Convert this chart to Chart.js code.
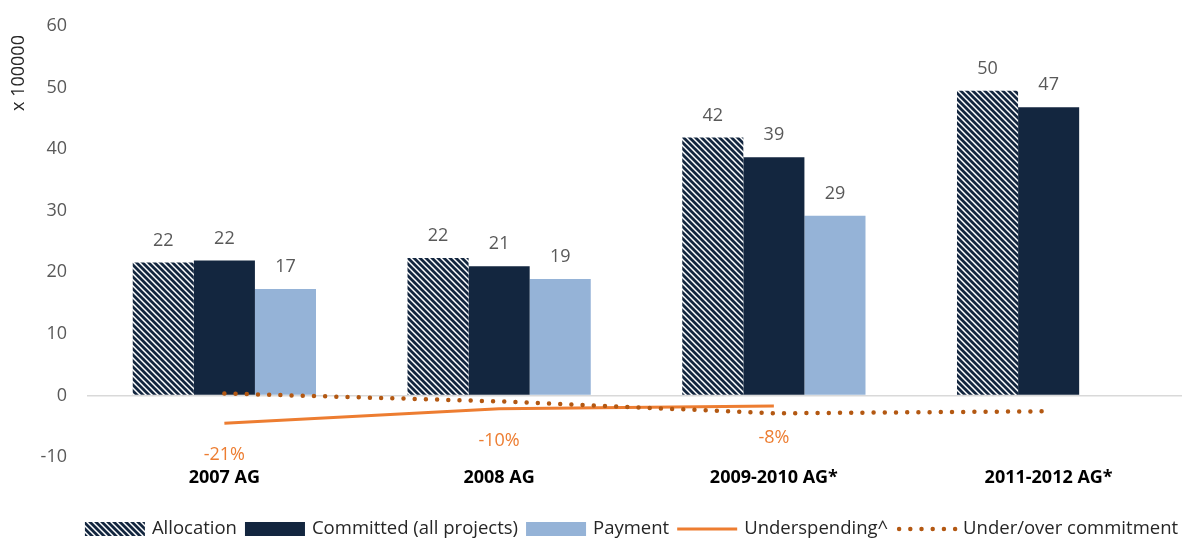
<!DOCTYPE html>
<html>
<head>
<meta charset="utf-8">
<script src="https://cdn.jsdelivr.net/npm/chart.js@4.4.1/dist/chart.umd.min.js"></script>
<style>
  html, body { margin: 0; padding: 0; background: #fff; overflow: hidden; }
  #wrap { position: relative; width: 1186px; height: 538px; }
</style>
</head>
<body>
<div id="wrap"><canvas id="c" width="1186" height="538"></canvas></div>
<script>
// Categories and series (amounts in units of 100000)
const categories = ['2007 AG', '2008 AG', '2009-2010 AG*', '2011-2012 AG*'];
const allocation = [21.6, 22.3, 41.9, 49.5];
const committed  = [21.9, 21.0, 38.7, 46.8];
const payment    = [17.3, 18.9, 29.2, null];
// Percentages, plotted against a hidden secondary scale
const underspending  = [-21, -10, -8, null];
const commitmentGap  = [1.5, -4.5, -13.5, -12];
const yTicks = [-10, 0, 10, 20, 30, 40, 50, 60];

const FONT = '"Open Sans", "DejaVu Sans", sans-serif';
const NAVY = '#13263F';
const LIGHT_BLUE = '#95B3D7';
const ORANGE = '#ED7D31';
const BROWN = '#B35812';

// Wide downward diagonal hatch
function hatchPattern(color) {
  const s = 6;
  const tile = document.createElement('canvas');
  tile.width = s; tile.height = s;
  const g = tile.getContext('2d');
  g.fillStyle = '#ffffff';
  g.fillRect(0, 0, s, s);
  g.strokeStyle = color;
  g.lineWidth = 2.8;
  g.beginPath();
  g.moveTo(-1, -1); g.lineTo(s + 1, s + 1);
  g.moveTo(-1, s - 1); g.lineTo(1, s + 1);
  g.moveTo(s - 1, -1); g.lineTo(s + 1, 1);
  g.stroke();
  return g.createPattern(tile, 'repeat');
}

// Value labels above bars and percentage labels under the underspending line
const valueLabels = {
  id: 'valueLabels',
  afterDatasetsDraw(chart) {
    const ctx = chart.ctx;
    ctx.save();
    ctx.textAlign = 'center';
    ctx.textBaseline = 'middle';
    ctx.font = '18px ' + FONT;
    chart.data.datasets.forEach((ds, i) => {
      const meta = chart.getDatasetMeta(i);
      if (meta.hidden) return;
      meta.data.forEach((el, j) => {
        const v = ds.data[j];
        if (v === null || v === undefined) return;
        if (meta.type === 'bar') {
          ctx.fillStyle = '#595959';
          ctx.fillText(String(Math.round(v)), el.x, el.y - 22);
        } else if (ds.pctLabels) {
          ctx.fillStyle = ORANGE;
          ctx.fillText(v + '%', el.x, el.y + 32);
        }
      });
    });
    ctx.restore();
  }
};

// Unit caption at the top of the value axis
const unitCaption = {
  id: 'unitCaption',
  afterDraw(chart) {
    const ctx = chart.ctx;
    ctx.save();
    ctx.translate(19, chart.chartArea.top + 47);
    ctx.rotate(-Math.PI / 2);
    ctx.textAlign = 'center';
    ctx.textBaseline = 'middle';
    ctx.font = '18px ' + FONT;
    ctx.fillStyle = '#262626';
    ctx.fillText('x 100000', 0, 0);
    ctx.restore();
  }
};

// Single-row legend under the category labels
const bottomLegend = {
  id: 'bottomLegend',
  afterDraw(chart) {
    const ctx = chart.ctx;
    const sw = 60, gapText = 7, gapItem = 8, boxH = 14;
    ctx.save();
    ctx.font = '18.5px ' + FONT;
    const items = chart.data.datasets.map((ds, i) => ({
      ds, type: chart.getDatasetMeta(i).type,
      tw: ctx.measureText(ds.label).width
    }));
    const total = items.reduce((a, it) => a + sw + gapText + it.tw, 0) + gapItem * (items.length - 1);
    let x = (chart.chartArea.left + chart.chartArea.right) / 2 - 5 - total / 2;
    const y = chart.height - 9;
    items.forEach(it => {
      const ds = it.ds;
      if (it.type === 'bar') {
        ctx.fillStyle = ds.backgroundColor;
        ctx.fillRect(x, y - boxH / 2, sw, boxH);
      } else {
        ctx.save();
        ctx.strokeStyle = ds.borderColor;
        ctx.lineWidth = ds.borderWidth;
        ctx.lineCap = ds.borderCapStyle || 'butt';
        ctx.setLineDash(ds.borderDash || []);
        ctx.beginPath();
        const inset = ds.borderDash ? 3 : 0;
        ctx.moveTo(x + inset, y);
        ctx.lineTo(x + sw, y);
        ctx.stroke();
        ctx.restore();
      }
      ctx.fillStyle = '#262626';
      ctx.textAlign = 'left';
      ctx.textBaseline = 'middle';
      ctx.fillText(ds.label, x + sw + gapText, y);
      x += sw + gapText + it.tw + gapItem;
    });
    ctx.restore();
  }
};

const ctx = document.getElementById('c').getContext('2d');
new Chart(ctx, {
  type: 'bar',
  data: {
    labels: categories,
    datasets: [
      { label: 'Allocation', data: allocation, backgroundColor: hatchPattern(NAVY), order: 3 },
      { label: 'Committed (all projects)', data: committed, backgroundColor: NAVY, order: 3 },
      { label: 'Payment', data: payment, backgroundColor: LIGHT_BLUE, order: 3 },
      {
        type: 'line', label: 'Underspending^', data: underspending, yAxisID: 'y2',
        borderColor: ORANGE, borderWidth: 3, pointRadius: 0, tension: 0, fill: false,
        pctLabels: true, order: 2
      },
      {
        type: 'line', label: 'Under/over commitment', data: commitmentGap, yAxisID: 'y2',
        borderColor: BROWN, borderWidth: 4.5, borderDash: [0, 11.2], borderCapStyle: 'round',
        pointRadius: 0, tension: 0, fill: false, order: 1
      }
    ]
  },
  options: {
    responsive: false,
    animation: false,
    devicePixelRatio: 1,
    layout: { padding: { top: 26, right: 0, bottom: 41, left: 0 } },
    datasets: { bar: { categoryPercentage: 0.667, barPercentage: 1.0 } },
    plugins: { legend: { display: false }, tooltip: { enabled: false } },
    scales: {
      x: {
        grid: { display: false },
        border: { display: false },
        ticks: {
          color: '#000000', padding: 2, maxRotation: 0, autoSkip: false,
          font: { family: FONT, size: 18, weight: 'bold' }
        },
        afterFit: s => { s.height = 40; }
      },
      y: {
        min: -10, max: 60,
        afterBuildTicks: s => { s.ticks = yTicks.map(v => ({ value: v })); },
        afterFit: s => { s.width = 87; s.paddingTop = 11; s.paddingBottom = 11; },
        border: { display: false },
        grid: {
          drawTicks: false,
          lineWidth: 1.5,
          color: c => (c.tick && c.tick.value === 0) ? '#D9D9D9' : 'rgba(0,0,0,0)'
        },
        ticks: { padding: 20, color: '#595959', font: { family: FONT, size: 18 } }
      },
      y2: { display: false, min: -46.5, max: 279 }
    }
  },
  plugins: [valueLabels, unitCaption, bottomLegend]
});
</script>
</body>
</html>
